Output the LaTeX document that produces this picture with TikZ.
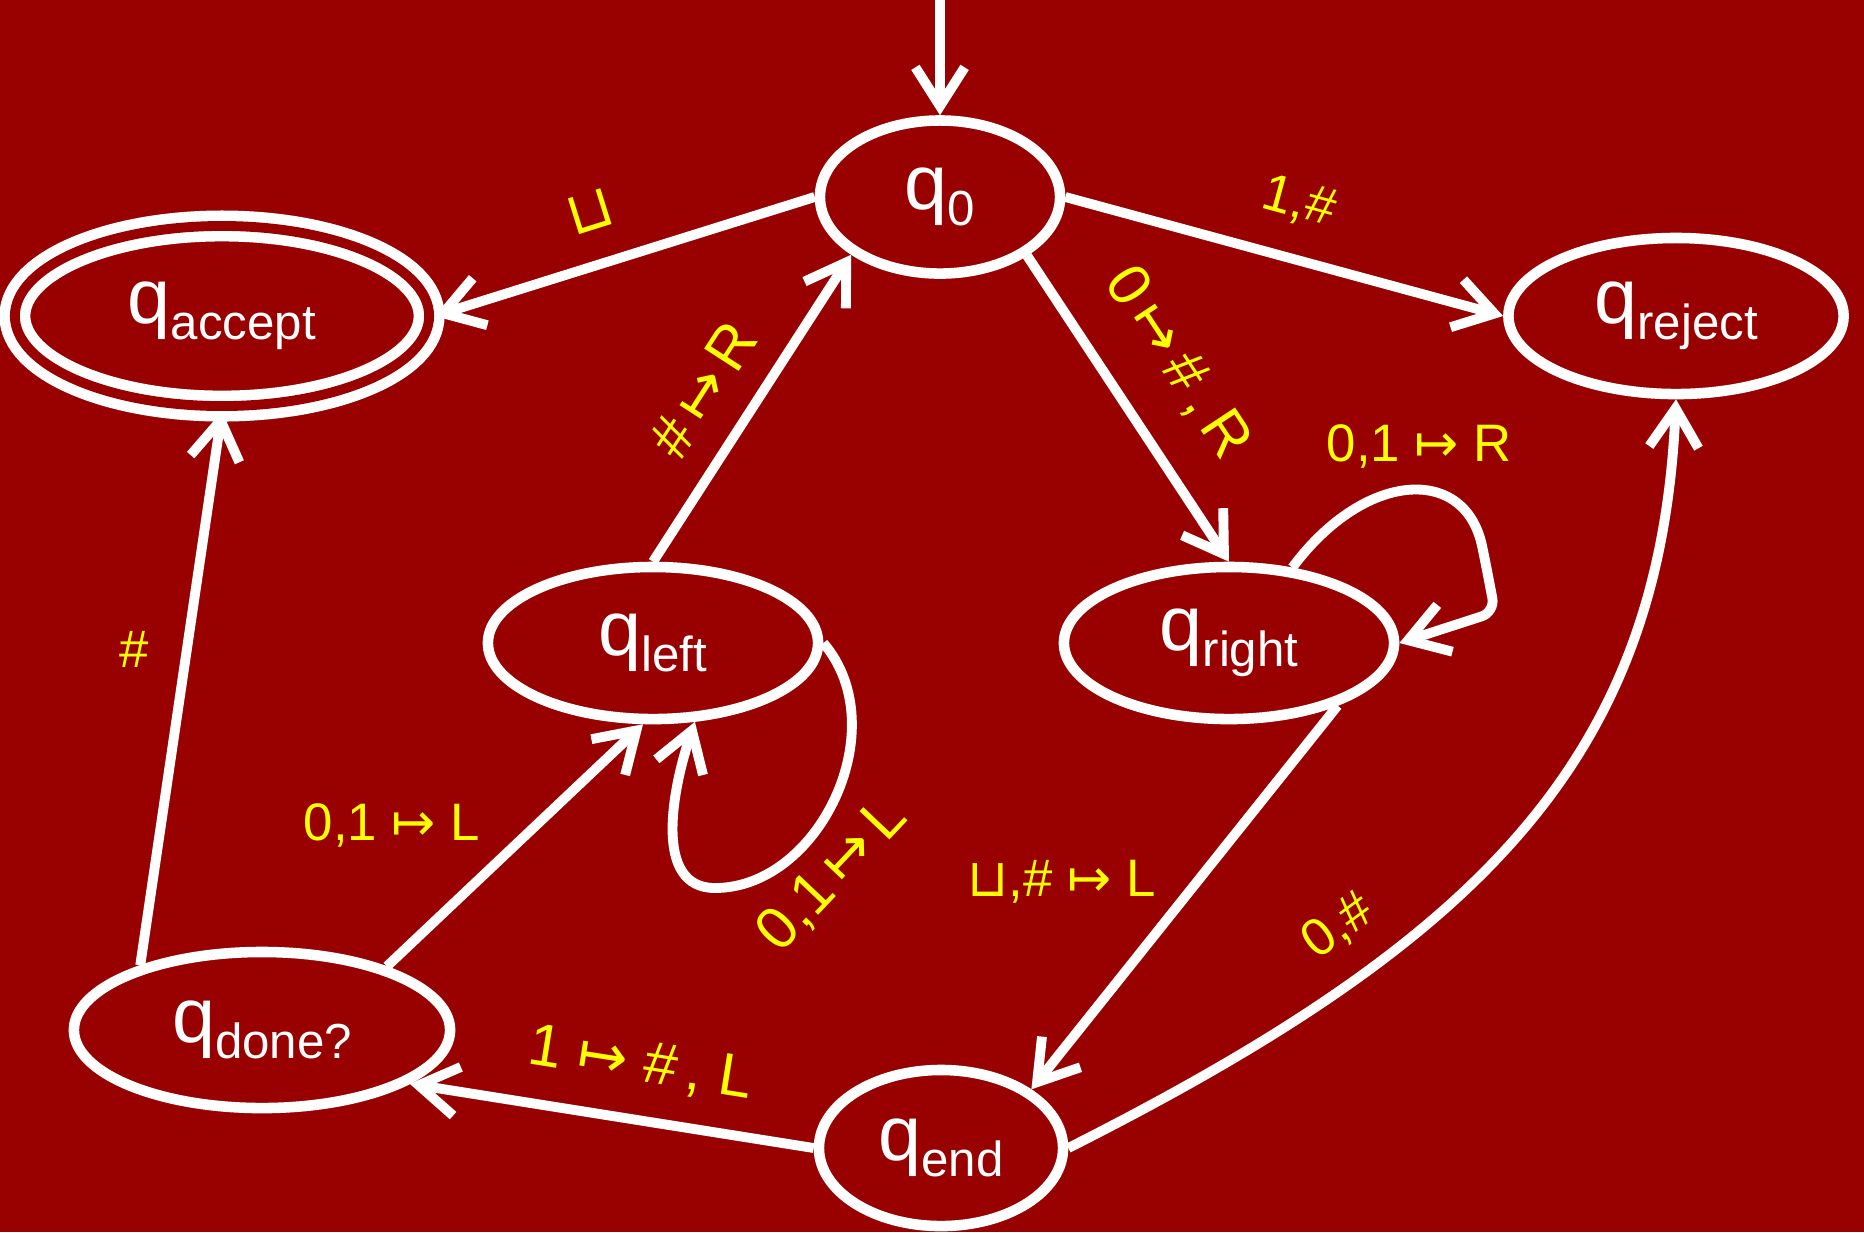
\documentclass[tikz,border=0pt]{standalone}
\usepackage{fontspec}
\setmainfont{Liberation Sans}
\newfontfamily\symfont{DejaVu Sans}
\usepackage{tikz}
\usetikzlibrary{arrows.meta,shapes.geometric}
\definecolor{bgred}{HTML}{990000}
\definecolor{lblyellow}{HTML}{FFFF00}
\newcommand{\blanksym}{{\symfont ⊔}}
\newcommand{\mto}{{\symfont ↦}}
\newcommand{\stname}[2]{\fontsize{22}{26}\selectfont #1\raisebox{-4.5pt}{\fontsize{14}{16}\selectfont #2}}
\tikzset{
  statebox/.style={ellipse,draw=white,line width=3pt,inner sep=0pt,text=white},
  acceptbox/.style={statebox,double=bgred,double distance=2.8pt},
  lbl/.style={text=lblyellow,font=\fontsize{15}{18}\selectfont},
  lblbig/.style={lbl,font=\fontsize{17}{20}\selectfont},
  arrow/.style={-{Straight Barb[length=11pt,width=14pt]},line width=2.8pt,draw=white}
}
\begin{document}
\begin{tikzpicture}[x=0.01cm,y=-0.01cm]
  \useasboundingbox (0,0) rectangle (1864,1232);
  \fill[bgred] (0,0) rectangle (1864,1232);

  \node[statebox,minimum width=2.40cm,minimum height=1.53cm] (q0) at (940,197) {\stname{q}{0}};
  \node[acceptbox,minimum width=4.14cm,minimum height=1.80cm] (acc) at (222,316) {\stname{q}{accept}};
  \node[statebox,minimum width=3.35cm,minimum height=1.56cm] (rej) at (1676,316) {\stname{q}{reject}};
  \node[statebox,minimum width=3.30cm,minimum height=1.52cm] (lft) at (653,643) {\stname{q}{left}};
  \node[statebox,minimum width=3.30cm,minimum height=1.52cm] (rgt) at (1229,643) {\stname{q}{right}};
  \node[statebox,minimum width=3.76cm,minimum height=1.56cm] (done) at (262,1030) {\stname{q}{done?}};
  \node[statebox,minimum width=2.44cm,minimum height=1.56cm] (end) at (941,1148) {\stname{q}{end}};
  \coordinate (init) at (940,0);

  \draw[arrow] (init) -- (q0.north);
  \draw[arrow] (q0.west) -- node[lblbig,pos=0.55,sloped,above=5pt] {\blanksym} (acc.east);
  \draw[arrow] (q0.east) -- node[lbl,pos=0.5,sloped,above=5pt] {1,\#} (rej.west);
  \draw[arrow] (q0.-34) -- node[lblbig,pos=0.47,sloped,above=7pt] {0\,\mto\,\#\,,\,R} (rgt.north);
  \draw[arrow] (lft.north) -- node[lblbig,pos=0.47,sloped,above=4pt] {\#\,\mto\,R} (q0.213);
  \draw[arrow,rounded corners=4pt] (rgt.50) .. controls (1365,470) and (1465,465) .. node[lbl,pos=0.55,above=2pt] {0,1 \mto\ R} (1485,560) -- (1495,612) -- (rgt.east);
  \draw[arrow] (lft.east) .. controls (896,728) and (819,888) .. node[lblbig,pos=0.68,sloped,below] {0,1\,\mto\,L} (715,888) .. controls (652,888) and (673,787) .. (lft.-62);
  \draw[arrow] (rgt.-30) -- node[lbl,pos=0.46,left=7pt] {\blanksym,\# \mto\ L} (end.33);
  \draw[arrow] (end.west) -- node[lbl,pos=0.45,sloped,above=4pt,font=\fontsize{17}{20}\selectfont] {1 \mto\ \#\,, L} (done.-20);
  \draw[arrow] (done.27) -- node[lbl,pos=0.58,left=11pt] {0,1 \mto\ L} (lft.-97);
  \draw[arrow] (done.152) -- node[lbl,pos=0.57,left=6pt] {\#} (acc.south);
  \draw[arrow] (end.east) .. controls (1480,940) and (1660,760) .. node[lbl,pos=0.29,sloped,above=4pt] {0,\#} (rej.south);
\end{tikzpicture}
\end{document}
